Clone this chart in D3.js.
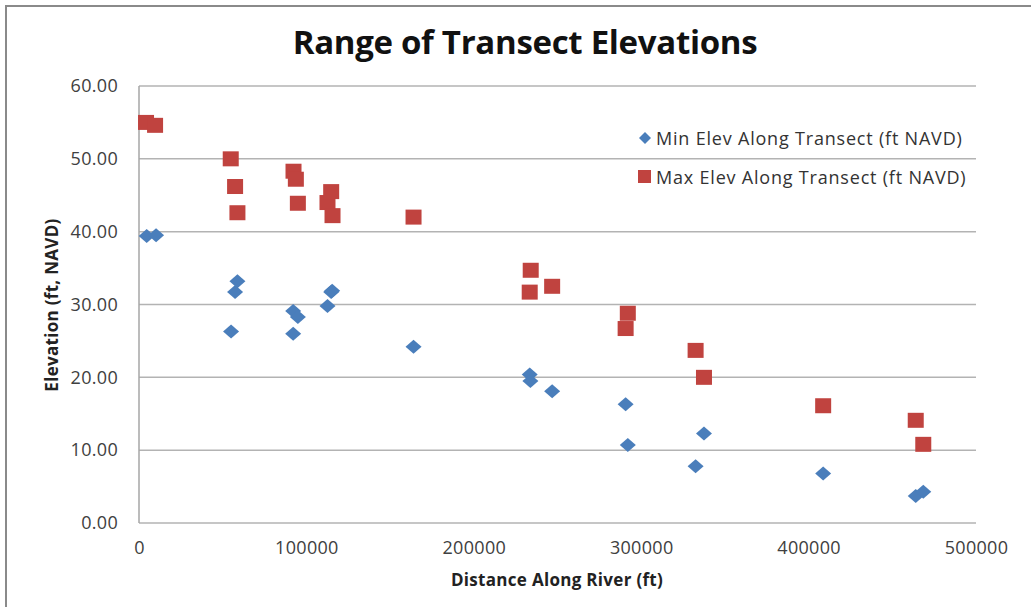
<!DOCTYPE html>
<html><head><meta charset="utf-8">
<script src="https://cdn.jsdelivr.net/npm/d3@7"></script>
<style>html,body{margin:0;padding:0;background:#fff;overflow:hidden}</style>
</head><body>
<svg id="chart" width="1031" height="607"></svg>
<script>
const title = "Range of Transect Elevations";
const xTitle = "Distance Along River (ft)";
const yTitle = "Elevation (ft, NAVD)";
const seriesNames = ["Min Elev Along Transect (ft NAVD)", "Max Elev Along Transect (ft NAVD)"];
const xTicks = [0, 100000, 200000, 300000, 400000, 500000];
const yTicks = [0, 10, 20, 30, 40, 50, 60];

const minDist = [4600, 10200, 55000, 57400, 58800, 92100, 92100, 94900, 112600, 114800, 115400, 164000, 233400, 233800, 246800, 290700, 292000, 332500, 337500, 408700, 464000, 468500];
const minElev = [39.4, 39.5, 26.3, 31.7, 33.2, 29.1, 26.0, 28.3, 29.8, 31.7, 31.9, 24.2, 20.4, 19.5, 18.1, 16.3, 10.7, 7.8, 12.3, 6.8, 3.7, 4.3];
const maxDist = [4200, 9600, 54800, 57400, 58800, 92300, 93700, 94900, 112600, 114800, 115600, 164000, 234000, 233400, 246800, 290700, 292000, 332500, 337500, 408700, 464000, 468500];
const maxElev = [55.0, 54.6, 50.0, 46.2, 42.6, 48.3, 47.2, 43.9, 44.0, 45.5, 42.2, 42.0, 34.7, 31.7, 32.5, 26.7, 28.8, 23.7, 20.0, 16.1, 14.1, 10.8];

const colors = ["#4A7EBB", "#C0433F"];
const svg = d3.select("#chart");
const L = 139, R = 976, T = 86, B = 523;
const x = d3.scaleLinear().domain([0, 500000]).range([L, R]);
const y = d3.scaleLinear().domain([0, 60]).range([B, T]);
const font = "'Open Sans', sans-serif";

// outer border
svg.append("rect").attr("x", 6).attr("y", 6).attr("width", 1040).attr("height", 620)
  .attr("fill", "#fff").attr("stroke", "#8a8a8a").attr("stroke-width", 2);

// gridlines
svg.append("g").selectAll("line").data(yTicks).join("line")
  .attr("x1", L).attr("x2", R).attr("y1", d => y(d)).attr("y2", d => y(d))
  .attr("stroke", "#b3b3b3").attr("stroke-width", 1.5);
// y axis line
svg.append("line").attr("x1", L).attr("x2", L).attr("y1", T).attr("y2", B)
  .attr("stroke", "#a6a6a6").attr("stroke-width", 1.5);

// y tick labels
const yAxis = d3.axisLeft(y).tickValues(yTicks).tickFormat(d3.format(".2f")).tickSize(0).tickPadding(21);
const gy = svg.append("g").attr("transform", `translate(${L},0)`).call(yAxis);
gy.select(".domain").remove();
gy.selectAll("text").attr("font-family", font).attr("font-size", 18).attr("letter-spacing", 0.3).attr("fill", "#404040");

const xAxis = d3.axisBottom(x).tickValues(xTicks).tickFormat(d3.format("d")).tickSize(0).tickPadding(18);
const gx = svg.append("g").attr("transform", `translate(0,${B})`).call(xAxis);
gx.select(".domain").remove();
gx.selectAll("text").attr("font-family", font).attr("font-size", 18).attr("letter-spacing", 0.3).attr("fill", "#404040");

// titles
svg.append("text").attr("x", 525).attr("y", 54).attr("text-anchor", "middle")
  .attr("font-family", font).attr("font-weight", "bold").attr("font-size", 33).attr("fill", "#111")
  .attr("letter-spacing", -0.3).text(title);
svg.append("text").attr("x", 557).attr("y", 586).attr("text-anchor", "middle")
  .attr("font-family", font).attr("font-weight", "bold").attr("font-size", 17).attr("fill", "#222")
  .attr("letter-spacing", 0.3).text(xTitle);
svg.append("text").attr("transform", "translate(58,305) rotate(-90)").attr("text-anchor", "middle")
  .attr("font-family", font).attr("font-weight", "bold").attr("font-size", 17).attr("fill", "#222")
  .attr("letter-spacing", 0.3).text(yTitle);

// markers
const diamond = (cx, cy, w, h) => `M${cx},${cy - h}L${cx + w},${cy}L${cx},${cy + h}L${cx - w},${cy}Z`;
svg.append("g").selectAll("path").data(minDist.map((d, i) => [d, minElev[i]])).join("path")
  .attr("d", d => diamond(x(d[0]), y(d[1]), 8, 7)).attr("fill", colors[0]);
svg.append("g").selectAll("rect").data(maxDist.map((d, i) => [d, maxElev[i]])).join("rect")
  .attr("x", d => x(d[0]) - 8).attr("y", d => y(d[1]) - 7.5).attr("width", 16).attr("height", 15)
  .attr("fill", colors[1]);

// legend
const lg = svg.append("g");
lg.append("path").attr("d", diamond(645, 138, 6, 6)).attr("fill", colors[0]);
lg.append("rect").attr("x", 638).attr("y", 170).attr("width", 13).attr("height", 13).attr("fill", colors[1]);
lg.selectAll("text").data(seriesNames).join("text")
  .attr("x", 656).attr("y", (d, i) => 145 + i * 39)
  .attr("font-family", font).attr("font-size", 18).attr("letter-spacing", 0.8).attr("fill", "#333").text(d => d);
</script>
</body></html>
